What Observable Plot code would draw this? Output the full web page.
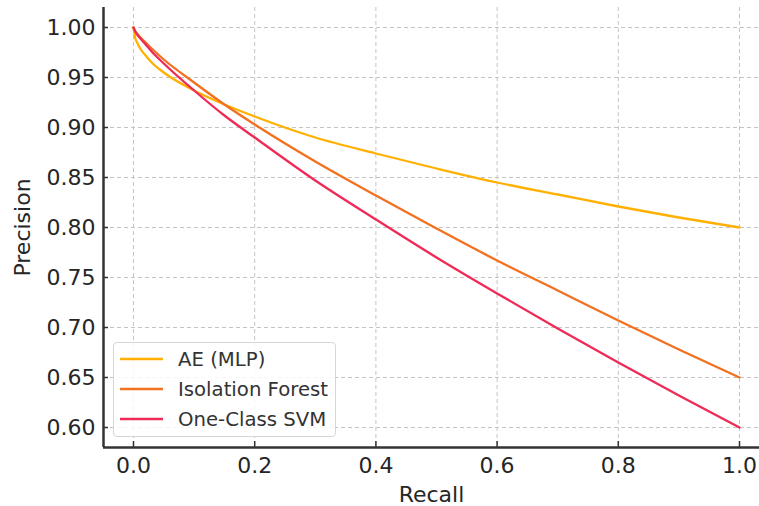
<!DOCTYPE html>
<html>
<head>
<meta charset="utf-8">
<script src="https://cdn.jsdelivr.net/npm/d3@7"></script>
<script src="https://cdn.jsdelivr.net/npm/@observablehq/plot@0.6"></script>
<style>
  html, body { margin: 0; padding: 0; background: #fff; }
  #wrap { position: relative; width: 759px; height: 506px; overflow: hidden; font-family: "DejaVu Sans", sans-serif; }
  #legend { position: absolute; left: 113px; top: 342px; width: 223px; height: 95px; border: 1px solid #d6d6d6; border-radius: 4px; background: rgba(255,255,255,0.85); box-sizing: border-box; }
  .row { position: absolute; left: 0; height: 30px; display: flex; align-items: center; font-size: 19.7px; color: #333; white-space: nowrap; }
  .row svg { margin-left: 6px; margin-right: 15px; }
</style>
</head>
<body>
<div id="wrap"><div id="legend"></div></div>
<script>
const series = ["AE (MLP)", "Isolation Forest", "One-Class SVM"];
const colors = ["#FFB000", "#F3701F", "#EF2A56"];
const recall = [0, 0.003, 0.006, 0.01, 0.02, 0.03, 0.05, 0.1, 0.15, 0.2, 0.3, 0.4, 0.5, 0.6, 0.7, 0.8, 0.9, 1.0];
const aePrecision  = [1.0, 0.989, 0.985, 0.980, 0.972, 0.965, 0.955, 0.937, 0.923, 0.911, 0.890, 0.874, 0.859, 0.845, 0.833, 0.821, 0.810, 0.800];
const ifPrecision  = [1.0, 0.996, 0.994, 0.991, 0.985, 0.979, 0.968, 0.945, 0.923, 0.903, 0.866, 0.832, 0.799, 0.767, 0.737, 0.707, 0.678, 0.650];
const svmPrecision = [1.0, 0.996, 0.993, 0.990, 0.983, 0.976, 0.964, 0.937, 0.912, 0.890, 0.847, 0.808, 0.770, 0.734, 0.699, 0.665, 0.632, 0.600];
const xTicks = [0, 0.2, 0.4, 0.6, 0.8, 1.0];
const yTicks = [0.60, 0.65, 0.70, 0.75, 0.80, 0.85, 0.90, 0.95, 1.00];
const xDomain = [-0.0495, 1.033];
const yDomain = [0.58, 1.02];

const allP = [aePrecision, ifPrecision, svmPrecision];
const data = [];
series.forEach((s, i) => recall.forEach((r, j) => data.push({series: s, recall: r, precision: allP[i][j]})));

const textColor = "#262626";
const chart = Plot.plot({
  width: 759, height: 506,
  marginLeft: 103, marginTop: 7, marginBottom: 59, marginRight: 0,
  style: {fontFamily: "DejaVu Sans, sans-serif", fontSize: "22px", color: textColor, background: "transparent", overflow: "visible"},
  x: {domain: xDomain},
  y: {domain: yDomain},
  color: {domain: series, range: colors},
  marks: [
    Plot.gridX(xTicks, {stroke: "#c4c4c4", strokeOpacity: 1, strokeWidth: 1, strokeDasharray: "4,3"}),
    Plot.gridY(yTicks, {stroke: "#c4c4c4", strokeOpacity: 1, strokeWidth: 1, strokeDasharray: "4,3"}),
    Plot.line(data, {x: "recall", y: "precision", stroke: "series", z: "series", curve: "monotone-x", strokeWidth: 2.3}),
    Plot.ruleX([xDomain[0]], {stroke: "#333", strokeWidth: 2.5}),
    Plot.ruleY([yDomain[0]], {stroke: "#333", strokeWidth: 2.5}),
    Plot.axisX(xTicks, {tickSize: -6, stroke: "#333", strokeWidth: 1.5, tickFormat: () => "", label: null}),
    Plot.axisY(yTicks, {tickSize: -5, stroke: "#333", strokeWidth: 1.5, tickFormat: () => "", label: null}),
    Plot.axisX(xTicks, {tickSize: 0, tickPadding: 10, tickFormat: d3.format(".1f"), fill: textColor, fontSize: 22, label: null}),
    Plot.axisY(yTicks, {tickSize: 0, tickPadding: 8, tickFormat: d3.format(".2f"), fill: textColor, fontSize: 22, label: null}),
    Plot.text(["Precision"], {text: d => d, frameAnchor: "left", dx: -81, rotate: -90, lineAnchor: "middle", textAnchor: "middle", fontSize: 22, fill: textColor}),
    Plot.text(["Recall"], {text: d => d, frameAnchor: "bottom", dy: 47, lineAnchor: "middle", textAnchor: "middle", fontSize: 22, fill: textColor})
  ]
});
document.getElementById("wrap").prepend(chart);

const legend = document.getElementById("legend");
series.forEach((s, i) => {
  const row = document.createElement("div");
  row.className = "row";
  row.style.top = (1 + i * 30) + "px";
  row.innerHTML = `<svg width="43" height="6"><line x1="0" x2="43" y1="3" y2="3" stroke="${colors[i]}" stroke-width="2.5"/></svg><span>${s}</span>`;
  legend.appendChild(row);
});
</script>
</body>
</html>
